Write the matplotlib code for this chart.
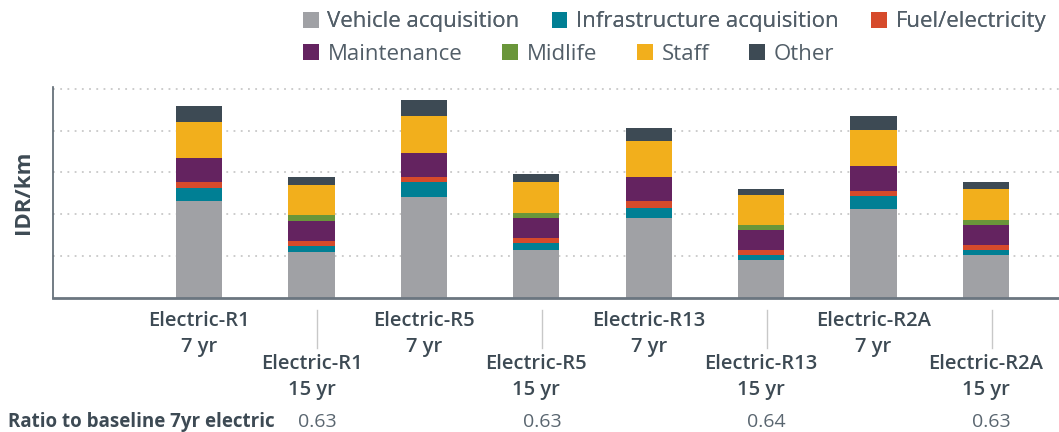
import matplotlib.pyplot as plt
import matplotlib.transforms as mtransforms

plt.rcParams['font.family'] = ['Open Sans', 'DejaVu Sans']

# Data for the chart (IDR/km, arbitrary units)
scenarios = ["Electric-R1", "Electric-R1", "Electric-R5", "Electric-R5",
             "Electric-R13", "Electric-R13", "Electric-R2A", "Electric-R2A"]
lifetimes = ["7 yr", "15 yr", "7 yr", "15 yr", "7 yr", "15 yr", "7 yr", "15 yr"]
vehicle = [2.31, 1.09, 2.41, 1.14, 1.90, 0.90, 2.12, 1.02]
infrastructure = [0.32, 0.15, 0.36, 0.17, 0.24, 0.12, 0.31, 0.12]
fuel = [0.14, 0.12, 0.12, 0.12, 0.17, 0.12, 0.12, 0.12]
maintenance = [0.58, 0.48, 0.58, 0.48, 0.58, 0.48, 0.60, 0.48]
midlife = [0.0, 0.15, 0.0, 0.12, 0.0, 0.12, 0.0, 0.12]
staff = [0.86, 0.72, 0.89, 0.75, 0.87, 0.72, 0.87, 0.74]
other = [0.38, 0.17, 0.39, 0.19, 0.31, 0.14, 0.33, 0.17]
ratio_labels = ["0.63", "0.63", "0.64", "0.63"]

series = [
    ("Vehicle acquisition", vehicle, "#a0a1a5"),
    ("Infrastructure acquisition", infrastructure, "#007f94"),
    ("Fuel/electricity", fuel, "#d64a2b"),
    ("Maintenance", maintenance, "#642360"),
    ("Midlife", midlife, "#6a963a"),
    ("Staff", staff, "#f2af1c"),
    ("Other", other, "#3d4a54"),
]

text_color = "#3d4a54"
W, H = 1059, 432

fig = plt.figure(figsize=(W / 100, H / 100), dpi=100)
ax = fig.add_axes([53 / W, 1 - 297.5 / H, 1 - 53 / W, (297.5 - 87) / H])

x = list(range(1, 9))
bottom = [0.0] * 8
handles = []
for name, vals, col in series:
    b = ax.bar(x, vals, width=0.41, bottom=bottom, color=col, label=name)
    handles.append(b)
    bottom = [bo + v for bo, v in zip(bottom, vals)]

ax.set_xlim(-0.3, 8.65)
ax.set_ylim(0, 5.05)
ax.set_yticks([1, 2, 3, 4, 5])
ax.set_yticklabels([])
ax.tick_params(axis="both", length=0)
ax.set_xticks([])
ax.yaxis.grid(True, linestyle=(0, (1, 3)), color="#c8c8c8", linewidth=1.3)
ax.set_axisbelow(True)
for s in ["top", "right"]:
    ax.spines[s].set_visible(False)
ax.spines["left"].set_color("#5a6670")
ax.spines["left"].set_linewidth(1.2)
ax.spines["bottom"].set_color("#6b7680")
ax.spines["bottom"].set_linewidth(2)

ax.set_ylabel("IDR/km", fontsize=16, fontweight="bold", color=text_color, labelpad=10)

# Category labels below the axis
trans = mtransforms.blended_transform_factory(ax.transData, fig.transFigure)
for i, (sc, lt) in enumerate(zip(scenarios, lifetimes)):
    y_top = 311 if i % 2 == 0 else 354
    ax.text(x[i], 1 - y_top / H, sc + "\n" + lt, transform=trans, ha="center", va="top",
            fontsize=14.5, fontweight="semibold", color=text_color, linespacing=1.38)
    if i % 2 == 1:
        ax.plot([x[i] + 0.05, x[i] + 0.05], [1 - 310 / H, 1 - 348 / H], transform=trans,
                color="#c8c8c8", linewidth=1, clip_on=False)
        ax.text(x[i] + 0.05, 1 - 422 / H, ratio_labels[i // 2], transform=trans,
                ha="center", va="center", fontsize=14, color="#5a6670")

fig.text(8 / W, 1 - 422 / H, "Ratio to baseline 7yr electric", ha="left", va="center",
         fontsize=13.5, fontweight="bold", color=text_color)

# Legend in two rows
leg_kw = dict(frameon=False, loc="center left", fontsize=16, handlelength=0.7,
              handleheight=0.7, handletextpad=0.4, borderpad=0, borderaxespad=0,
              labelcolor="#525e68")
leg1 = fig.legend(handles[:3], [s[0] for s in series[:3]], ncol=3,
                  bbox_to_anchor=(303 / W, 1 - 22 / H), columnspacing=1.45, **leg_kw)
fig.add_artist(leg1)
fig.legend(handles[3:], [s[0] for s in series[3:]], ncol=4,
           bbox_to_anchor=(303 / W, 1 - 54 / H), columnspacing=1.8, **leg_kw)

fig.savefig("out.png", dpi=100)
